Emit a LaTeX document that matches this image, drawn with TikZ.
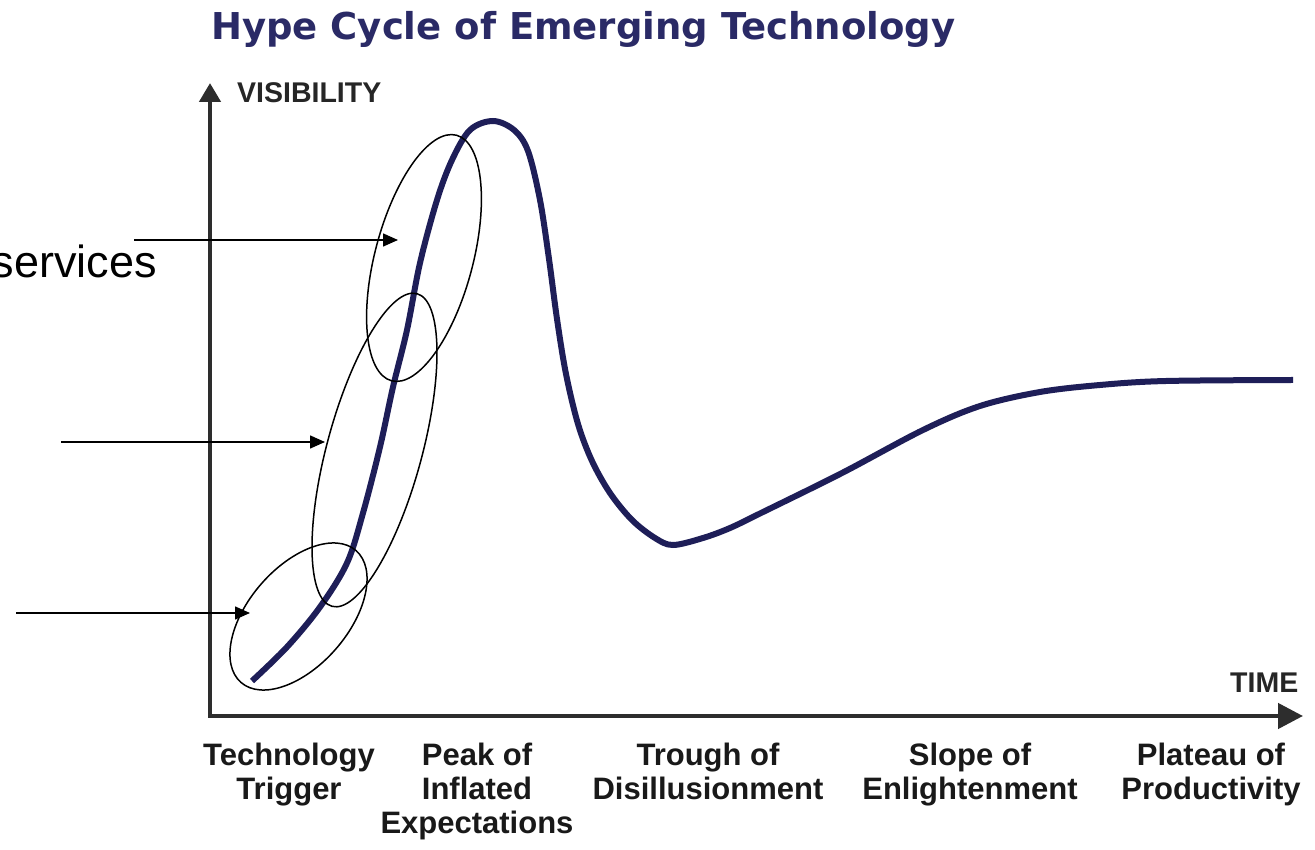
\documentclass[tikz,border=0pt]{standalone}
\usepackage{fontspec}
\usetikzlibrary{arrows.meta,shapes.geometric}
\newfontfamily\lsans{Liberation Sans}
\newfontfamily\djsans{DejaVu Sans}
\definecolor{titlenavy}{RGB}{42,42,102}
\definecolor{curvenavy}{RGB}{30,30,88}
\definecolor{axisgray}{RGB}{45,45,45}
\tikzset{
  phase/.style={font=\lsans\bfseries\fontsize{31}{34}\selectfont, align=center, anchor=north, inner sep=0pt, text=black!90},
  axlabel/.style={font=\lsans\bfseries\fontsize{28.5}{30}\selectfont, inner sep=0pt, text=black!85},
  ring/.style={draw=black, line width=1.5pt, ellipse, inner sep=0pt, fill=none},
  pointer/.style={draw=black, line width=1.5pt, -{Triangle[length=15pt,width=13pt]}},
}
\begin{document}
\begin{tikzpicture}[x=1pt,y=1pt]
\clip (0,0) rectangle (1315,849);
\fill[white] (0,0) rectangle (1315,849);
% title
\node[anchor=base west, inner sep=0pt, font=\djsans\bfseries\fontsize{37}{40}\selectfont, text=titlenavy] (title) at (211,809) {Hype Cycle of Emerging Technology};
% axes
\draw[axisgray, line width=4.5pt, {Triangle[length=19pt,width=21pt]}-{Triangle[length=25pt,width=25pt]}] (210,766) -- (210,133) -- (1303,133);
\node[axlabel, anchor=base west] (vis) at (237,746) {VISIBILITY};
\node[axlabel, anchor=base west] (time) at (1230,156) {TIME};
% curve
\draw[curvenavy, line width=6pt, line cap=butt] plot[smooth, tension=0.55] coordinates {
 (252,168) (287,202) (320,242) (347,286) (363,336) (380,402) (393,462) (407,519) (420,586)
 (437,649) (452,689) (470,719) (493,728) (514,719) (528,698) (540,649) (549,590) (557,530)
 (566,475) (578,425) (592,388) (610,356) (632,329) (655,311) (673,304) (703,311) (730,321)
 (761,336) (842,376) (923,419) (980,443) (1040,457) (1100,464) (1166,468) (1293,469)};
% ellipses
\node[ring, rotate=75.2, minimum width=254pt, minimum height=98pt] (e1) at (424,591) {};
\node[ring, rotate=74.8, minimum width=324pt, minimum height=95pt] (e2) at (374.5,399) {};
\node[ring, rotate=48.9, minimum width=175pt, minimum height=99pt] (e3) at (298.5,232.5) {};
% pointers
\coordinate (p1s) at (134,609);
\coordinate (p1t) at (398,609);
\coordinate (p2s) at (61,407);
\coordinate (p2t) at (325,407);
\coordinate (p3s) at (16,236);
\coordinate (p3t) at (250,236);
\draw[pointer] (p1s) -- (p1t);
\draw[pointer] (p2s) -- (p2t);
\draw[pointer] (p3s) -- (p3t);
\node[anchor=base east, inner sep=0pt, font=\lsans\fontsize{45}{50}\selectfont] (svc) at (157,571) {services};
% phase labels
\node[phase] (tt) at (289,106) {Technology\\Trigger};
\node[phase] (pi) at (477,106) {Peak of\\Inflated\\Expectations};
\node[phase] (td) at (708,106) {Trough of\\Disillusionment};
\node[phase] (se) at (970,106) {Slope of\\Enlightenment};
\node[phase] (pp) at (1211,106) {Plateau of\\Productivity};
\end{tikzpicture}
\end{document}
